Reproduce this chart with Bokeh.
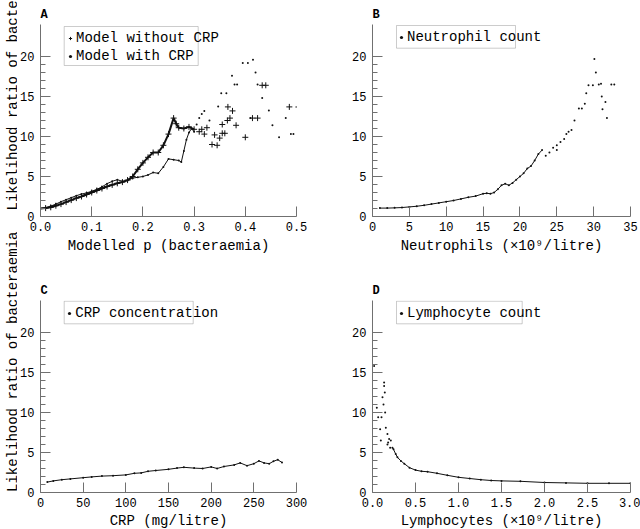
import math
from bokeh.plotting import figure
from bokeh.layouts import column, row
from bokeh.models import (Range1d, FixedTicker, PrintfTickFormatter, Label, Title,
                          BoxAnnotation, Legend, LegendItem)
from bokeh.embed import file_html
from bokeh.resources import INLINE

# ---------------- data ----------------
Y_MAJOR = [0, 5, 10, 15, 20]
Y_MINOR = [i for i in range(1, 20) if i % 5]

# Panel A: Model without CRP (+), dense part and scattered part
a_wo_x = [0.0, 0.01, 0.02, 0.03, 0.04, 0.05, 0.06, 0.07, 0.08, 0.09, 0.10, 0.11, 0.12,
          0.13, 0.14, 0.15, 0.16, 0.17, 0.18, 0.19, 0.20, 0.21, 0.22, 0.23, 0.24, 0.25,
          0.26, 0.265, 0.27, 0.28, 0.29, 0.30]
a_wo_y = [1.0, 1.05, 1.15, 1.35, 1.55, 1.8, 2.05, 2.3, 2.5, 2.75, 3.0, 3.25, 3.5,
          3.75, 3.95, 4.15, 4.3, 4.55, 5.0, 5.9, 6.7, 7.4, 8.0, 8.0, 8.9, 10.3,
          12.3, 11.6, 11.1, 11.0, 11.2, 10.9]
a_wo_sx = [0.31, 0.315, 0.32, 0.325, 0.335, 0.345, 0.34, 0.35, 0.355, 0.36, 0.355,
           0.365, 0.37, 0.375, 0.366, 0.382, 0.40, 0.414, 0.424, 0.433, 0.44, 0.486]
a_wo_sy = [10.6, 10.9, 10.3, 11.1, 9.0, 8.9, 10.2, 9.8, 10.4, 10.4, 11.5,
           12.0, 12.3, 13.2, 13.7, 11.4, 9.9, 12.3, 12.3, 16.4, 16.4, 13.7]

# Panel A: Model with CRP (dots)
a_w_x = [0.0, 0.01, 0.02, 0.03, 0.04, 0.05, 0.06, 0.07, 0.08, 0.09, 0.10, 0.11, 0.12,
         0.13, 0.14, 0.15, 0.16, 0.17, 0.18, 0.19, 0.20, 0.21, 0.22, 0.23, 0.24, 0.25,
         0.26, 0.27, 0.275, 0.28, 0.285, 0.29, 0.295, 0.30]
a_w_y = [1.0, 1.1, 1.3, 1.55, 1.85, 2.1, 2.35, 2.6, 2.8, 2.95, 3.15, 3.4, 3.7,
         4.1, 4.4, 4.6, 4.4, 4.5, 4.8, 4.9, 5.0, 5.2, 5.5, 5.4, 6.2, 7.2,
         7.1, 7.0, 6.8, 8.2, 9.6, 10.5, 11.0, 10.6]
a_w_sx = [0.305, 0.31, 0.315, 0.32, 0.33, 0.347, 0.353, 0.363, 0.374, 0.379, 0.384,
          0.395, 0.405, 0.415, 0.42, 0.424, 0.41, 0.433, 0.446, 0.453, 0.466, 0.479,
          0.489, 0.494, 0.5]
a_w_sy = [11.5, 12.3, 12.8, 13.2, 12.0, 13.75, 15.4, 15.4, 17.6, 16.5, 16.5,
          19.2, 19.2, 19.6, 18.0, 16.5, 12.3, 14.8, 13.25, 11.4, 9.9, 12.3,
          10.3, 10.3, 13.7]

# Panel B: neutrophil count
b_x = [1, 2, 3, 4, 5, 6, 7, 8, 9, 10, 11, 12, 13, 14, 15, 15.5, 16, 16.5, 17, 17.5,
       18, 18.5, 19, 19.5, 20, 20.5, 21, 21.5, 22, 22.5, 23]
b_y = [1.05, 1.05, 1.08, 1.12, 1.2, 1.28, 1.4, 1.55, 1.7, 1.85, 2.0, 2.2, 2.4, 2.55,
       2.85, 2.9, 2.85, 3.0, 3.4, 3.9, 4.1, 3.9, 4.2, 4.6, 5.0, 5.4, 6.0, 6.3, 7.0,
       7.8, 8.3]
b_sx = [23.5, 24, 24.5, 25, 25, 25.5, 26, 26.3, 26.6, 27, 27.4, 28, 28.4, 28.8, 29,
        29.3, 29.9, 30.1, 30.3, 30.7, 31.0, 31.1, 31.2, 31.6, 31.8, 32.4, 32.8]
b_sy = [7.6, 8.0, 8.6, 8.9, 8.3, 9.3, 9.7, 10.3, 10.6, 10.8, 12.0, 13.5, 13.5, 14.1,
        15.4, 16.4, 16.4, 19.7, 18.0, 16.5, 16.6, 15.0, 13.4, 14.3, 12.3, 16.5, 16.5]

# Panel C: CRP concentration
c_x = [8, 15, 25, 35, 50, 60, 72, 85, 100, 110, 118, 126, 135, 150, 160, 168, 180,
       190, 200, 207, 215, 227, 234, 242, 250, 256, 262, 268, 273, 278, 283]
c_y = [1.3, 1.45, 1.6, 1.7, 1.85, 1.95, 2.05, 2.1, 2.2, 2.4, 2.45, 2.65, 2.75, 2.9,
       3.05, 3.15, 3.05, 3.0, 3.2, 3.0, 3.25, 3.45, 3.7, 3.35, 3.6, 3.95, 3.7, 3.6,
       3.9, 4.1, 3.75]

# Panel D: lymphocyte count
d_sx = [0.019, 0.05, 0.066, 0.089, 0.097, 0.105, 0.116, 0.128, 0.135, 0.135, 0.143,
        0.147, 0.155, 0.174, 0.174, 0.182, 0.193, 0.205, 0.213]
d_sy = [15.8, 10.6, 9.4, 7.9, 6.5, 9.4, 11.9, 11.0, 13.75, 13.3, 12.5,
        10.0, 8.1, 7.3, 6.0, 6.25, 6.7, 5.6, 6.5]
d_x = [0.232, 0.244, 0.27, 0.29, 0.33, 0.37, 0.43, 0.5, 0.57, 0.64, 0.75, 0.87, 1.0,
       1.13, 1.26, 1.38, 1.5, 1.72, 2.0, 2.25, 2.5, 2.75, 3.0]
d_y = [5.6, 5.4, 4.8, 4.4, 3.95, 3.6, 3.1, 2.8, 2.65, 2.6, 2.4, 2.15, 1.9,
       1.75, 1.6, 1.5, 1.45, 1.4, 1.25, 1.2, 1.15, 1.15, 1.15]

A_TICKS = [0.0, 0.1, 0.2, 0.3, 0.4, 0.5]
B_TICKS = [0, 5, 10, 15, 20, 25, 30, 35]
C_TICKS = [0, 50, 100, 150, 200, 250, 300]
D_TICKS = [0.0, 0.5, 1.0, 1.5, 2.0, 2.5, 3.0]

Y_TITLE = "Likelihood ratio of bacteraemia"

# ---------------- styling ----------------
FONT = "Liberation Mono"
AXC = "#707070"
INK = "#111111"


def make_fig(w, h, bl, br, bt, bb, x_end, xticks, fmt=None):
    p = figure(width=w, height=h, output_backend="svg", toolbar_location=None,
               x_range=Range1d(0, x_end), y_range=Range1d(0, 24),
               min_border_left=bl, min_border_right=br,
               min_border_top=bt, min_border_bottom=bb)
    p.outline_line_color = None
    p.grid.visible = False
    p.background_fill_color = "white"
    p.border_fill_color = "white"
    p.xaxis.ticker = FixedTicker(ticks=xticks)
    if fmt:
        p.xaxis.formatter = PrintfTickFormatter(format=fmt)
    p.yaxis.ticker = FixedTicker(ticks=Y_MAJOR, minor_ticks=Y_MINOR)
    for ax in p.axis:
        ax.axis_line_color = AXC
        ax.major_tick_line_color = AXC
        ax.minor_tick_line_color = AXC
        ax.major_tick_in = 10
        ax.major_tick_out = 0
        ax.minor_tick_in = 5
        ax.minor_tick_out = 0
        ax.major_label_text_font = FONT
        ax.major_label_text_font_size = "12px"
        ax.major_label_text_color = "black"
    p.xaxis.minor_tick_line_color = None
    p.xaxis.major_label_standoff = 5
    p.yaxis.major_label_standoff = 6
    return p


def titles(p, letter, xlabel, offset, standoff):
    p.title = Title(text=letter, align="left", text_font=FONT, text_font_size="12px",
                    text_font_style="bold", text_color="black", standoff=6)
    p.add_layout(Title(text=xlabel, align="center", offset=offset, standoff=standoff,
                       text_font=FONT, text_font_size="14px", text_font_style="normal",
                       text_color="black"), "below")


def box(p, l, r, t, b):
    p.add_layout(BoxAnnotation(left=l, right=r, top=t, bottom=b,
                               left_units="screen", right_units="screen",
                               top_units="screen", bottom_units="screen",
                               fill_color=None, fill_alpha=0,
                               line_color="#555555", line_width=1))


def legend(p, items, x, y):
    lg = Legend(items=[LegendItem(label=t, renderers=[r]) for t, r in items],
                location=(x, y), glyph_width=8, glyph_height=18, label_height=18,
                label_standoff=2, spacing=0, padding=0, margin=0,
                border_line_color=None, background_fill_alpha=0,
                label_text_font=FONT, label_text_font_size="14px",
                label_text_color="black", label_text_baseline="middle")
    p.add_layout(lg)


def dots(p, xs, ys):
    return p.scatter(xs, ys, marker="circle", size=2.0, fill_color=INK, line_color=None)


# ---------------- strip holding the two y titles ----------------
ps = figure(width=17, height=529, output_backend="svg", toolbar_location=None,
            x_range=Range1d(0, 17), y_range=Range1d(0, 529),
            x_axis_type=None, y_axis_type=None, min_border=0)
ps.outline_line_color = None
ps.grid.visible = False
for ystart in (319, 37.5):
    ps.add_layout(Label(x=12.3, y=ystart, x_units="screen", y_units="screen",
                        text=Y_TITLE, angle=math.pi / 2, text_align="left",
                        text_baseline="alphabetic", text_font=FONT,
                        text_font_size="14px", text_color="black"))

# ---------------- panel A ----------------
pA = make_fig(313, 268, 22, 34, 24, 52, 0.5, A_TICKS, "%.1f")
pA.line(a_wo_x, a_wo_y, line_color=INK, line_width=2)
rA1 = pA.scatter(a_wo_x + a_wo_sx, a_wo_y + a_wo_sy, marker="cross", size=6,
                 line_color=INK, line_width=1)
pA.line(a_w_x, a_w_y, line_color=INK, line_width=1)
rA2 = dots(pA, a_w_x + a_w_sx, a_w_y + a_w_sy)
box(pA, 23.7, 157.7, 190, 151)
legend(pA, [("Model without CRP", rA1), ("Model with CRP", rA2)], 26, 151)
titles(pA, "A", "Modelled p (bacteraemia)", 21, 4)

# ---------------- panel B ----------------
pB = make_fig(310, 268, 42, 10, 24, 52, 35, B_TICKS)
pB.line(b_x, b_y, line_color=INK, line_width=1)
rB = dots(pB, b_x + b_sx, b_y + b_sy)
box(pB, 24, 143, 191, 168.3)
legend(pB, [("Neutrophil count", rB)], 25, 169.7)
titles(pB, "B", "Neutrophils (\u00d710\u2079/litre)", 25, 4)

# ---------------- panel C ----------------
pC = make_fig(313, 261, 22, 34, 32, 37, 300, C_TICKS)
pC.line(c_x, c_y, line_color=INK, line_width=1)
rC = dots(pC, c_x, c_y)
box(pC, 23.7, 152.7, 191.3, 168.7)
legend(pC, [("CRP concentration", rC)], 25.3, 169.7)
titles(pC, "C", "CRP (mg/litre)", 15, 2)

# ---------------- panel D ----------------
pD = make_fig(310, 261, 42, 10, 32, 37, 3.0, D_TICKS, "%.1f")
pD.line(d_x, d_y, line_color=INK, line_width=1)
rD = dots(pD, d_sx + d_x, d_sy + d_y)
box(pD, 24, 149.7, 191.3, 168.7)
legend(pD, [("Lymphocyte count", rD)], 25, 169.7)
titles(pD, "D", "Lymphocytes (\u00d710\u2079/litre)", 24, 2)

layout = row(ps, column(row(pA, pB), row(pC, pD)))
open("out.html", "w").write(file_html(layout, INLINE))
